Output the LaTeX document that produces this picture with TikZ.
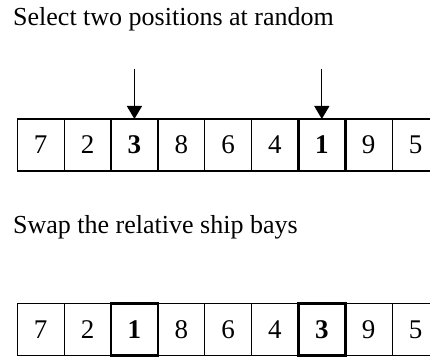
\documentclass[tikz,border=0pt]{standalone}
\usepackage{fontspec}
\setmainfont{Liberation Serif}
\usetikzlibrary{arrows.meta}
\begin{document}
\begin{tikzpicture}[x=1pt,y=-1pt,
  cell/.style={draw, line width=1.2pt, minimum width=46.85pt, minimum height=52pt,
    inner sep=0pt, outer sep=0pt, font=\fontsize{27}{30}\selectfont},
  selcell/.style={cell, line width=2.5pt, font=\fontsize{27}{30}\selectfont\bfseries},
  caption/.style={anchor=base west, inner sep=0pt, font=\fontsize{26}{30}\selectfont},
  arr/.style={line width=1.3pt, -{Triangle[width=15pt,length=13pt]}}]
\useasboundingbox (0,0) rectangle (430,358);
\fill[white] (0,0) rectangle (430,358);

\node[caption] (t1) at (13,25.5) {Select two positions at random};
\node[caption] (t2) at (13,233.5) {Swap the relative ship bays};

% row 1
\foreach \v/\i in {7/1,2/2,8/4,6/5,4/6,9/8,5/9} {
  \node[cell] (a\i) at ({17.3+46.85*(\i-0.5)},145) {\v};
}
\node[selcell] (a3) at ({17.3+46.85*2.5},145) {3};
\node[selcell] (a7) at ({17.3+46.85*6.5},145) {1};

% row 2
\foreach \v/\i in {7/1,2/2,8/4,6/5,4/6,9/8,5/9} {
  \node[cell] (b\i) at ({17.3+46.85*(\i-0.5)},329.7) {\v};
}
\node[selcell] (b3) at ({17.3+46.85*2.5},329.7) {1};
\node[selcell] (b7) at ({17.3+46.85*6.5},329.7) {3};

\coordinate (p1) at (a3.north |- 0,69);
\coordinate (p2) at (a7.north |- 0,69);
\draw[arr] (p1) -- (a3.north);
\draw[arr] (p2) -- (a7.north);
\end{tikzpicture}
\end{document}
